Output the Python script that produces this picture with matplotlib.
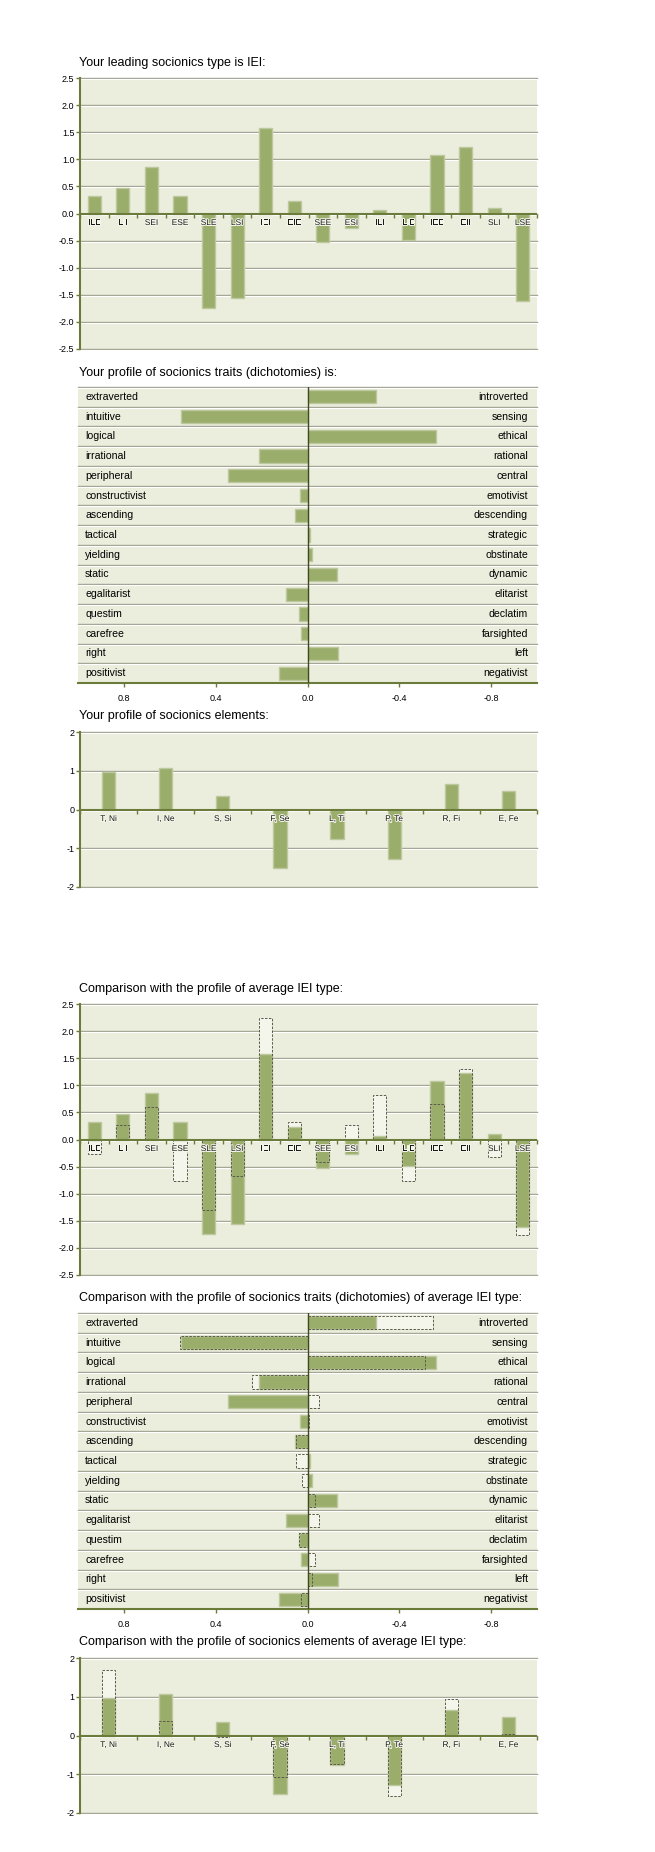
import matplotlib
matplotlib.use('Agg')
import matplotlib.pyplot as plt
import numpy as np
from matplotlib import patheffects
from matplotlib.transforms import ScaledTranslation

plt.rcParams['font.family'] = ['Liberation Sans', 'DejaVu Sans']
plt.rcParams['axes.unicode_minus'] = False

# socionics types
types = ['ILE', 'LII', 'SEI', 'ESE', 'SLE', 'LSI', 'IEI', 'EIE',
         'SEE', 'ESI', 'ILI', 'LIE', 'IEE', 'EII', 'SLI', 'LSE']
type_scores = [0.33, 0.47, 0.86, 0.33, -1.75, -1.56, 1.58, 0.23,
               -0.53, -0.27, 0.07, -0.49, 1.08, 1.22, 0.10, -1.61]
type_avg = [-0.26, 0.26, 0.60, -0.77, -1.30, -0.67, 2.25, 0.33,
            -0.41, 0.26, 0.82, -0.77, 0.66, 1.30, -0.32, -1.77]

# dichotomies (positive = left trait)
dich_left = ['extraverted', 'intuitive', 'logical', 'irrational', 'peripheral',
             'constructivist', 'ascending', 'tactical', 'yielding', 'static',
             'egalitarist', 'questim', 'carefree', 'right', 'positivist']
dich_right = ['introverted', 'sensing', 'ethical', 'rational', 'central',
              'emotivist', 'descending', 'strategic', 'obstinate', 'dynamic',
              'elitarist', 'declatim', 'farsighted', 'left', 'negativist']
dich_scores = [-0.30, 0.553, -0.559, 0.2125, 0.348, 0.031, 0.055, -0.012,
               -0.019, -0.128, 0.095, 0.036, 0.029, -0.134, 0.124]
dich_avg = [-0.546, 0.556, -0.511, 0.24, -0.052, -0.005, 0.05, 0.051,
            0.026, -0.033, -0.048, 0.035, -0.033, -0.019, 0.028]
dich_ticks = [0.8, 0.4, 0.0, -0.4, -0.8]

# elements
elements = ['T, Ni', 'I, Ne', 'S, Si', 'F, Se', 'L, Ti', 'P, Te', 'R, Fi', 'E, Fe']
elem_scores = [0.96, 1.06, 0.36, -1.50, -0.755, -1.27, 0.67, 0.47]
elem_avg = [1.69, 0.38, -0.04, -1.06, -0.74, -1.55, 0.94, 0.03]

BG = '#eceedd'
BAR = '#9aad6a'
BAR_EDGE = '#bdc89e'
GRID = '#a0a491'
OLIVE = '#6b7b39'
DASH = '#5a5a4c'
PALE = '#f4f6ec'

W, H = 655, 1852
fig = plt.figure(figsize=(W / 100, H / 100), dpi=100)


def rect(x0, y0, x1, y1):
    return [x0 / W, 1 - y1 / H, (x1 - x0) / W, (y1 - y0) / H]


def title(y, s):
    fig.text(79 / W, 1 - y / H, s, fontsize=9, va='center', ha='left')


def emboss_h(ax, y):
    tr = ax.get_yaxis_transform()
    ax.plot([0, 1], [y, y], color=GRID, lw=1, zorder=1, transform=tr, clip_on=False)
    ax.plot([0, 1], [y, y], color='white', lw=0.8, zorder=1, clip_on=False,
            transform=tr + ScaledTranslation(0, -1 / 100, fig.dpi_scale_trans))


def column_panel(r, cats, scores, avg, lim, ticks, fmt, width):
    ax = fig.add_axes(r)
    ax.set_facecolor(BG)
    x = np.arange(len(cats))
    for t in ticks:
        emboss_h(ax, t)
    if avg is not None:
        ax.bar(x, avg, width, color=PALE, zorder=2)
    ax.bar(x, scores, width, color=BAR, edgecolor=BAR_EDGE, lw=1, zorder=3)
    if avg is not None:
        ax.bar(x, avg, width, fill=False, edgecolor=DASH, ls=(0, (2.5, 1.5)), lw=0.7, zorder=4)
    ax.axhline(0, color=OLIVE, lw=1.5, zorder=5)
    bounds = np.arange(len(cats) + 1) - 0.5
    ax.plot(bounds, np.zeros_like(bounds), ls='none', marker=3, ms=3,
            mew=1, color=OLIVE, zorder=5, clip_on=False)
    for xi, c in zip(x, cats):
        ax.annotate(c, (xi, 0), xytext=(0, -10), textcoords='offset pixels',
                    ha='center', va='center', fontsize=6, zorder=6, color='#1a1a1a',
                    path_effects=[patheffects.withStroke(linewidth=1.4, foreground='#f4f6ea')])
    ax.set_xlim(-0.5, len(cats) - 0.5)
    ax.set_ylim(*lim)
    ax.set_xticks([])
    ax.set_yticks(ticks)
    ax.set_yticklabels([fmt.format(t) for t in ticks])
    for s in ['top', 'right', 'bottom']:
        ax.spines[s].set_visible(False)
    ax.spines['left'].set_color(OLIVE)
    ax.spines['left'].set_linewidth(1.5)
    ax.tick_params(axis='y', color=OLIVE, length=3, width=1, labelsize=6.5, pad=1)
    return ax


def dich_panel(r, scores, avg):
    ax = fig.add_axes(r)
    ax.set_facecolor(BG)
    n = len(dich_left)
    y = np.arange(n)
    for b in np.arange(n) - 0.5:
        emboss_h(ax, b)
    if avg is not None:
        ax.barh(y, avg, 0.67, color=PALE, zorder=2)
    ax.barh(y, scores, 0.67, color=BAR, edgecolor=BAR_EDGE, lw=1, zorder=3)
    if avg is not None:
        ax.barh(y, avg, 0.67, fill=False, edgecolor=DASH, ls=(0, (2.5, 1.5)), lw=0.7, zorder=4)
    ax.axvline(0, color='#3f4822', lw=1, zorder=5)
    for yi, l, rt in zip(y, dich_left, dich_right):
        ax.text(0.0153, yi, l, transform=ax.get_yaxis_transform(), ha='left',
                va='center', fontsize=7.6, zorder=6)
        ax.text(0.980, yi, rt, transform=ax.get_yaxis_transform(), ha='right',
                va='center', fontsize=7.6, zorder=6)
    ax.set_ylim(n - 0.5, -0.5)
    ax.set_xlim(1.0, -1.0)
    ax.set_yticks([])
    ax.set_xticks(dich_ticks)
    ax.set_xticklabels(['{:.1f}'.format(t) for t in dich_ticks])
    for s in ['top', 'right', 'left']:
        ax.spines[s].set_visible(False)
    ax.spines['bottom'].set_color(OLIVE)
    ax.spines['bottom'].set_linewidth(1.5)
    ax.tick_params(axis='x', color=OLIVE, length=3, width=1, labelsize=6.5, pad=5)
    return ax


type_ticks = [2.5, 2.0, 1.5, 1.0, 0.5, 0.0, -0.5, -1.0, -1.5, -2.0, -2.5]
elem_ticks = [2, 1, 0, -1, -2]

title(63, 'Your leading socionics type is IEI:')
column_panel(rect(80, 78, 537, 349), types, type_scores, None, (-2.5, 2.5), type_ticks, '{:.1f}', 0.46)

title(373, 'Your profile of socionics traits (dichotomies) is:')
dich_panel(rect(78, 387, 537, 683), dich_scores, None)

title(716, 'Your profile of socionics elements:')
column_panel(rect(80, 732, 537, 887), elements, elem_scores, None, (-2, 2), elem_ticks, '{:d}', 0.23)

title(989, 'Comparison with the profile of average IEI type:')
column_panel(rect(80, 1004, 537, 1275), types, type_scores, type_avg, (-2.5, 2.5), type_ticks, '{:.1f}', 0.46)

title(1298, 'Comparison with the profile of socionics traits (dichotomies) of average IEI type:')
dich_panel(rect(78, 1313, 537, 1609), dich_scores, dich_avg)

title(1642, 'Comparison with the profile of socionics elements of average IEI type:')
column_panel(rect(80, 1658, 537, 1813), elements, elem_scores, elem_avg, (-2, 2), elem_ticks, '{:d}', 0.23)

fig.savefig('out.png', dpi=100, facecolor='white')
